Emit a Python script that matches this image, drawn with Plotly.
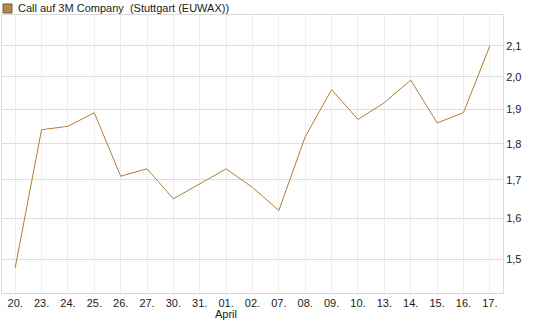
import plotly.graph_objects as go
import math

dates = ["20.", "23.", "24.", "25.", "26.", "27.", "30.", "31.", "01.", "02.",
         "07.", "08.", "09.", "10.", "13.", "14.", "15.", "16.", "17."]
prices = [1.48, 1.84, 1.85, 1.89, 1.71, 1.73, 1.65, 1.69, 1.73, 1.68,
          1.62, 1.82, 1.96, 1.87, 1.92, 1.99, 1.86, 1.89, 2.10]
y_ticks = [1.5, 1.6, 1.7, 1.8, 1.9, 2.0, 2.1]
month_label = "April"
month_index = 8
title_text = "Call auf 3M Company  (Stuttgart (EUWAX))"

line_color = "#b07d3c"
font_family = "Liberation Sans, Arial, sans-serif"

xs = list(range(len(dates)))

fig = go.Figure()
fig.add_trace(go.Scatter(x=xs, y=prices, mode="lines",
                         line=dict(color=line_color, width=1),
                         hoverinfo="skip", showlegend=False))

fig.update_layout(
    width=545, height=327,
    margin=dict(l=2, r=42, t=15, b=34),
    paper_bgcolor="white", plot_bgcolor="white",
    separators=",.",
    font=dict(family=font_family, size=11, color="#222222"),
    xaxis=dict(
        range=[-0.5, len(dates) - 0.5],
        tickmode="array", tickvals=xs, ticktext=dates,
        showgrid=True, gridcolor="#eeeeee", gridwidth=1,
        showline=True, linecolor="#d9d9d9", linewidth=1, mirror=True,
        zeroline=False, ticks="", ticklen=0,
        tickfont=dict(size=11, color="#222222"),
    ),
    yaxis=dict(
        type="log",
        range=[math.log10(1.4223), math.log10(2.205)],
        side="right",
        tickmode="array", tickvals=y_ticks,
        ticktext=[f"{v:.1f}".replace(".", ",") for v in y_ticks],
        showgrid=True, gridcolor="#dddddd", gridwidth=1,
        showline=True, linecolor="#d9d9d9", linewidth=1, mirror=True,
        zeroline=False, ticks="",
        tickfont=dict(size=11, color="#222222"),
    ),
)

fig.add_annotation(x=month_index, xref="x", y=-0.0755, yref="paper",
                   text=month_label, showarrow=False,
                   xanchor="center", yanchor="middle",
                   font=dict(size=11, color="#222222"))

# legend-like swatch and title
fig.add_shape(type="rect", xref="paper", yref="paper",
              x0=0.002, x1=0.01996, y0=1.0072, y1=1.0396,
              fillcolor="#b08850", line=dict(color="#7a5a30", width=1))
fig.add_annotation(x=0.0279, xref="paper", y=1.0234, yref="paper",
                   text=title_text, showarrow=False,
                   xanchor="left", yanchor="middle",
                   font=dict(size=11, color="#222222"))

fig.write_html("out.html")
